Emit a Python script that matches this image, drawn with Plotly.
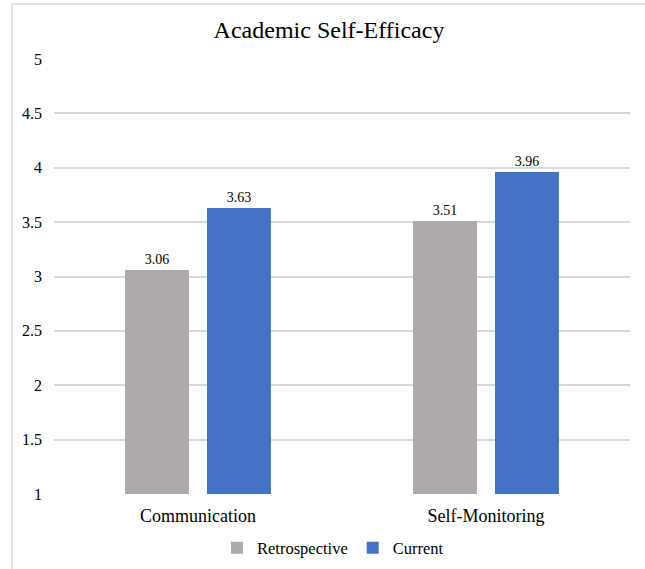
import plotly.graph_objects as go

categories = ["Communication", "Self-Monitoring"]
retrospective = [3.06, 3.51]
current = [3.63, 3.96]
series_names = ["Retrospective", "Current"]
y_ticks = [1, 1.5, 2, 2.5, 3, 3.5, 4, 4.5, 5]
y_tick_labels = ["1", "1.5", "2", "2.5", "3", "3.5", "4", "4.5", "5"]

SERIF = "Liberation Serif"
GRAY = "#AEAAAA"
BLUE = "#4472C4"
GRID = "#D9D9D9"

fig = go.Figure()
for name, vals, color in [(series_names[0], retrospective, GRAY),
                          (series_names[1], current, BLUE)]:
    fig.add_trace(go.Bar(
        x=categories, y=[v - 1 for v in vals], base=1, name=name,
        marker=dict(color=color, line=dict(width=0)),
        text=[f"{v:.2f}" for v in vals], textposition="outside",
        textfont=dict(family=SERIF, size=14, color="#000"),
        cliponaxis=False, hoverinfo="skip",
    ))

W, H = 645, 569
L, R, T, B = 54, 15, 59, 75
pw, ph = W - L - R, H - T - B

fig.update_layout(
    width=W, height=H,
    margin=dict(l=L, r=R, t=T, b=B, autoexpand=False),
    paper_bgcolor="white", plot_bgcolor="white",
    barmode="group", bargap=0.431, bargroupgap=0.22,
    title=dict(text="Academic Self-Efficacy", x=329 / W, xref="container",
               xanchor="center", y=1 - 30 / H, yref="container",
               yanchor="middle",
               font=dict(family=SERIF, size=24, color="#000")),
    font=dict(family=SERIF, color="#000"),
    xaxis=dict(showgrid=False, showline=False, ticks="",
               ticklabelstandoff=9,
               tickfont=dict(family=SERIF, size=18, color="#000")),
    yaxis=dict(range=[1, 5], tickvals=y_ticks, ticktext=y_tick_labels,
               showgrid=True, gridcolor=GRID, gridwidth=1.5,
               zeroline=False, showline=False, ticks="",
               ticklabelstandoff=11,
               tickfont=dict(family=SERIF, size=16, color="#000")),
    legend=dict(orientation="h", x=333 / W, xref="container",
                xanchor="center", y=1 - 548 / H, yref="container",
                yanchor="middle",
                font=dict(family=SERIF, size=16.5, color="#000"),
                itemwidth=30, traceorder="normal"),
    showlegend=True,
)

# chart frame: left and top edges of the outer border
fx0 = (12 - L) / pw
fy1 = 1 + (T - 4) / ph
fig.add_shape(type="line", xref="paper", yref="paper",
              x0=fx0, x1=fx0, y0=-1, y1=fy1,
              line=dict(color=GRID, width=1.5))
fig.add_shape(type="line", xref="paper", yref="paper",
              x0=fx0, x1=2, y0=fy1, y1=fy1,
              line=dict(color=GRID, width=1.5))

fig.write_html("out.html")
